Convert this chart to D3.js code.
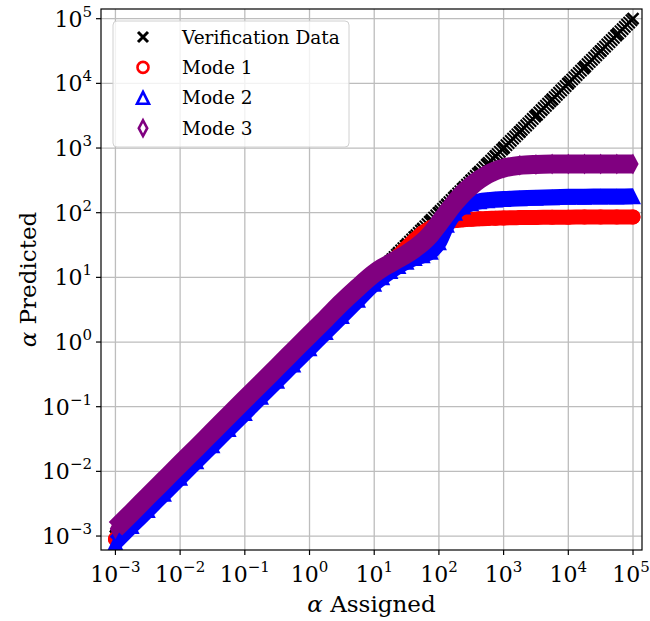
<!DOCTYPE html>
<html>
<head>
<meta charset="utf-8">
<script src="https://cdn.jsdelivr.net/npm/d3@7"></script>
<style>
  html, body { margin: 0; padding: 0; background: #fff; }
  svg text { font-family: "DejaVu Serif", "Liberation Serif", serif; fill: #000; }
</style>
</head>
<body>
<svg id="chart" width="650" height="621"></svg>
<script>
// alpha values (log spaced, finer in the knee region)
var alphaAssigned = [0.001, 0.00178, 0.00316, 0.00562, 0.01, 0.0178, 0.0316, 0.0562, 0.1, 0.178, 0.316, 0.562,
    1, 1.78, 3.16, 5.62, 10, 13.3, 17.8, 23.7, 31.6, 42.2, 56.2, 75, 100, 133, 178, 237, 316, 422, 562, 750,
    1000, 1780, 3160, 5620, 10000, 17800, 31600, 56200, 100000];
var verificationData = [0.001, 0.00178, 0.00316, 0.00562, 0.01, 0.0178, 0.0316, 0.0562, 0.1, 0.178, 0.316, 0.562,
    1, 1.78, 3.16, 5.62, 10, 13.3, 17.8, 23.7, 31.6, 42.2, 56.2, 75, 100, 133, 178, 237, 316, 422, 562, 750,
    1000, 1780, 3160, 5620, 10000, 17800, 31600, 56200, 100000];
var mode1 = [0.0009, 0.0016, 0.00285, 0.0051, 0.009, 0.016, 0.0285, 0.051, 0.09, 0.16, 0.285, 0.51,
    0.9, 1.6, 2.85, 5.1, 9.1, 12.2, 16.3, 21.7, 29, 38, 49, 59, 67, 72, 75.5, 78, 79.5, 80.5, 81.5, 82,
    83, 84, 84.6, 85.1, 85.4, 85.6, 85.8, 85.9, 86];
var mode2 = [0.0008, 0.00143, 0.00253, 0.0045, 0.008, 0.0143, 0.0253, 0.045, 0.08, 0.143, 0.253, 0.45,
    0.8, 1.43, 2.53, 4.5, 8, 10, 12.5, 15, 17.5, 20, 22, 25, 35, 65, 100, 125, 140, 150, 156, 160,
    163, 167, 171, 174, 176, 177, 178, 178.5, 179];
var mode3 = [0.0013, 0.0023, 0.0041, 0.0073, 0.013, 0.023, 0.041, 0.073, 0.13, 0.23, 0.41, 0.73,
    1.3, 2.3, 4.1, 7.0, 11.5, 14, 16.5, 19.5, 23, 28, 35, 47, 68, 100, 145, 200, 260, 325, 390, 445,
    490, 540, 558, 565, 567, 568, 568, 568, 568];
var tickExps = [-3, -2, -1, 0, 1, 2, 3, 4, 5];
var legendNames = ["Verification Data", "Mode 1", "Mode 2", "Mode 3"];

var svg = d3.select("#chart");
var pLeft = 101, pRight = 642, pTop = 9, pBottom = 550;

var x = d3.scaleLog().domain([Math.pow(10, -3.223), Math.pow(10, 5.139)]).range([pLeft, pRight]);
var y = d3.scaleLog().domain([Math.pow(10, -3.216), Math.pow(10, 5.15)]).range([pBottom, pTop]);

svg.append("defs").append("clipPath").attr("id", "plotClip")
    .append("rect").attr("x", pLeft).attr("y", pTop).attr("width", pRight - pLeft).attr("height", pBottom - pTop);

// grid
var grid = svg.append("g");
tickExps.forEach(function(e){
    var v = Math.pow(10, e);
    grid.append("line").attr("x1", x(v)).attr("x2", x(v)).attr("y1", pTop).attr("y2", pBottom)
        .attr("stroke", "#bdbdbd").attr("stroke-width", 1.3);
    grid.append("line").attr("y1", y(v)).attr("y2", y(v)).attr("x1", pLeft).attr("x2", pRight)
        .attr("stroke", "#bdbdbd").attr("stroke-width", 1.3);
});

// marker shapes
var markerPath = function(kind, s){
    if(kind === "x") return "M" + (-s) + "," + (-s) + "L" + s + "," + s + "M" + (-s) + "," + s + "L" + s + "," + (-s);
    if(kind === "o") return d3.symbol(d3.symbolCircle, Math.PI * s * s)();
    if(kind === "^") return "M0," + (-s) + "L" + s + "," + s + "L" + (-s) + "," + s + "Z";
    return "M0," + (-s * 1.4) + "L" + (s * 0.75) + ",0L0," + (s * 1.4) + "L" + (-s * 0.75) + ",0Z";
};

var plot = svg.append("g").attr("clip-path", "url(#plotClip)");
var pts = function(vals){
    return alphaAssigned.map(function(a, i){ return [a, vals[i]]; });
};
var line = d3.line()
    .x(function(d){ return x(d[0]); })
    .y(function(d){ return y(d[1]); })
    .curve(d3.curveMonotoneX);

// verification: dense x markers -> hatched black band
plot.append("path").attr("d", line(pts(verificationData))).attr("fill", "none")
    .attr("stroke", "#000").attr("stroke-width", 16).attr("stroke-dasharray", "2,1.1");
plot.append("path").attr("d", line(pts(verificationData))).attr("fill", "none")
    .attr("stroke", "#000").attr("stroke-width", 3);
plot.selectAll(".vx").data(pts(verificationData)).enter().append("path")
    .attr("transform", function(d){ return "translate(" + x(d[0]) + "," + y(d[1]) + ")"; })
    .attr("d", markerPath("x", 5.5)).attr("stroke", "#000").attr("stroke-width", 2.5).attr("fill", "none");

var series = [
    {vals: mode1, color: "#ff0000", kind: "o", width: 15, size: 7.5},
    {vals: mode2, color: "#0000ff", kind: "^", width: 16, size: 8},
    {vals: mode3, color: "#800080", kind: "d", width: 19, size: 7.5}
];
series.forEach(function(s){
    plot.append("path").attr("d", line(pts(s.vals))).attr("fill", "none")
        .attr("stroke", s.color).attr("stroke-width", s.width)
        .attr("stroke-linecap", s.kind === "o" ? "round" : "butt");
    plot.append("g").selectAll("path").data(pts(s.vals)).enter().append("path")
        .attr("transform", function(d){ return "translate(" + x(d[0]) + "," + y(d[1]) + ")"; })
        .attr("d", markerPath(s.kind, s.size)).attr("fill", s.color);
});

// frame + ticks
svg.append("rect").attr("x", pLeft).attr("y", pTop).attr("width", pRight - pLeft).attr("height", pBottom - pTop)
    .attr("fill", "none").attr("stroke", "#000").attr("stroke-width", 1.2);

var tickLabel = function(g, e){
    var t = g.append("text");
    t.append("tspan").text("10").attr("font-size", 22);
    t.append("tspan").text(e < 0 ? "\u2212" + (-e) : "" + e).attr("font-size", 15).attr("dy", -10);
    return t;
};
tickExps.forEach(function(e){
    var v = Math.pow(10, e);
    svg.append("line").attr("x1", x(v)).attr("x2", x(v)).attr("y1", pBottom).attr("y2", pBottom + 5)
        .attr("stroke", "#000").attr("stroke-width", 1.2);
    svg.append("line").attr("x1", pLeft - 5).attr("x2", pLeft).attr("y1", y(v)).attr("y2", y(v))
        .attr("stroke", "#000").attr("stroke-width", 1.2);
    // last label nudged in so it stays inside the window
    var gx = svg.append("g").attr("transform", "translate(" + Math.min(x(v), 631) + "," + 582 + ")");
    tickLabel(gx, e).attr("text-anchor", "middle");
    var gy = svg.append("g").attr("transform", "translate(" + (pLeft - 9) + "," + (y(v) + 8) + ")");
    tickLabel(gy, e).attr("text-anchor", "end");
});

// axis labels
var xl = svg.append("text").attr("x", (pLeft + pRight) / 2).attr("y", 612).attr("text-anchor", "middle").attr("font-size", 23);
xl.append("tspan").text("\u03b1").attr("font-style", "italic");
xl.append("tspan").text(" Assigned");
var yl = svg.append("text").attr("transform", "translate(36," + ((pTop + pBottom) / 2) + ") rotate(-90)")
    .attr("text-anchor", "middle").attr("font-size", 23);
yl.append("tspan").text("\u03b1").attr("font-style", "italic");
yl.append("tspan").text(" Predicted");

// legend
var lg = svg.append("g");
lg.append("rect").attr("x", 113).attr("y", 21).attr("width", 236).attr("height", 126).attr("rx", 4)
    .attr("fill", "#fff").attr("fill-opacity", 0.8).attr("stroke", "#d0d0d0").attr("stroke-width", 1);
var legendKinds = [["x", "#000"], ["o", "#ff0000"], ["^", "#0000ff"], ["d", "#800080"]];
legendNames.forEach(function(name, i){
    var ly = 37 + i * 30.4;
    var k = legendKinds[i][0];
    var size = k === "x" ? 5 : (k === "o" ? 5.5 : (k === "^" ? 6 : 5.6));
    lg.append("path").attr("transform", "translate(143," + ly + ")").attr("d", markerPath(k, size))
        .attr("fill", "none").attr("stroke", legendKinds[i][1]).attr("stroke-width", k === "x" ? 3 : 2.6);
    lg.append("text").attr("x", 182).attr("y", ly + 6.5).attr("font-size", 18.5).text(name);
});
</script>
</body>
</html>
